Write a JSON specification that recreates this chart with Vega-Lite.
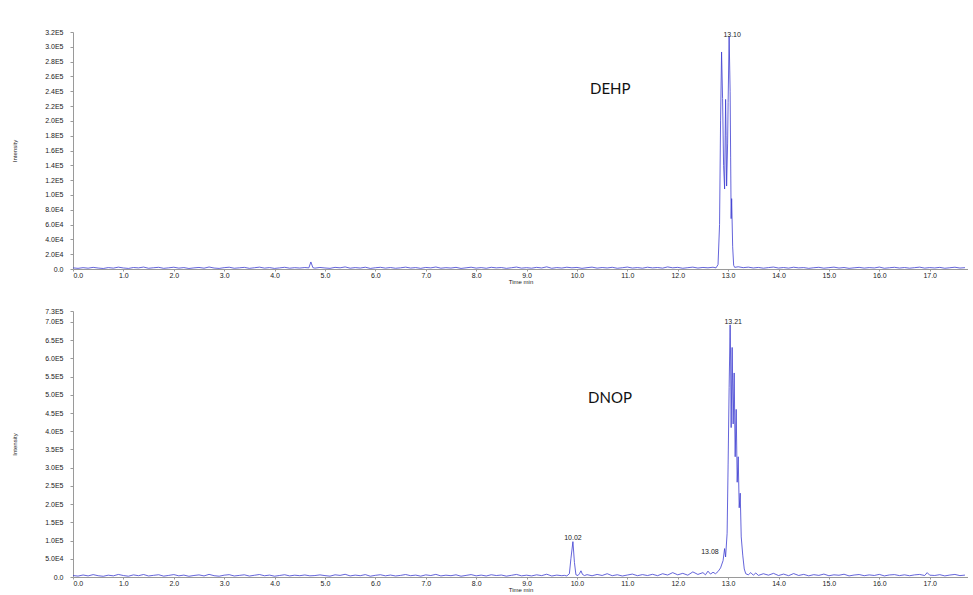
{
  "$schema": "https://vega.github.io/schema/vega-lite/v6.json",
  "background": "white",
  "padding": {"left": 11, "top": 28, "right": 0, "bottom": 0},
  "spacing": 23,
  "config": {
    "view": {"stroke": null},
    "font": "Liberation Sans",
    "axis": {"grid": false, "labelOverlap": false, "domainColor": "#9a9a9a", "tickColor": "#9a9a9a", "labelColor": "#222222", "titleColor": "#222222", "titleFontWeight": "normal", "labelFont": "Liberation Sans", "titleFont": "Liberation Sans"}
  },
  "datasets": {
    "dehp": [
      {"t":0.0,"v":1500},{"t":0.1,"v":900},{"t":0.2,"v":1800},{"t":0.3,"v":1100},{"t":0.4,"v":2200},{"t":0.5,"v":1300},{"t":0.6,"v":700},{"t":0.7,"v":1900},{"t":0.8,"v":1200},{"t":0.9,"v":2500},
      {"t":1.0,"v":1400},{"t":1.1,"v":800},{"t":1.2,"v":2000},{"t":1.3,"v":1500},{"t":1.4,"v":2600},{"t":1.5,"v":1000},{"t":1.6,"v":1700},{"t":1.7,"v":2300},{"t":1.8,"v":900},{"t":1.9,"v":1600},
      {"t":2.0,"v":2400},{"t":2.1,"v":1200},{"t":2.2,"v":1900},{"t":2.3,"v":700},{"t":2.4,"v":1500},{"t":2.5,"v":2100},{"t":2.6,"v":1100},{"t":2.7,"v":2700},{"t":2.8,"v":1300},{"t":2.9,"v":800},
      {"t":3.0,"v":1800},{"t":3.1,"v":2400},{"t":3.2,"v":1000},{"t":3.3,"v":1600},{"t":3.4,"v":2200},{"t":3.5,"v":900},{"t":3.6,"v":1700},{"t":3.7,"v":2500},{"t":3.8,"v":1200},{"t":3.9,"v":1900},
      {"t":4.0,"v":800},{"t":4.1,"v":1500},{"t":4.2,"v":2300},{"t":4.3,"v":1100},{"t":4.4,"v":1800},{"t":4.5,"v":1300},{"t":4.6,"v":2000},{"t":4.68,"v":1500},{"t":4.72,"v":9500},{"t":4.76,"v":1800},
      {"t":4.8,"v":1200},{"t":4.9,"v":2100},{"t":5.0,"v":1400},{"t":5.1,"v":900},{"t":5.2,"v":2200},{"t":5.3,"v":1600},{"t":5.4,"v":2800},{"t":5.5,"v":1100},{"t":5.6,"v":1900},{"t":5.7,"v":1300},
      {"t":5.8,"v":2400},{"t":5.9,"v":800},{"t":6.0,"v":1700},{"t":6.1,"v":2300},{"t":6.2,"v":1200},{"t":6.3,"v":2000},{"t":6.4,"v":1000},{"t":6.5,"v":1600},{"t":6.6,"v":2500},{"t":6.7,"v":1300},
      {"t":6.8,"v":1900},{"t":6.9,"v":900},{"t":7.0,"v":2100},{"t":7.1,"v":1500},{"t":7.2,"v":2700},{"t":7.3,"v":1100},{"t":7.4,"v":1800},{"t":7.5,"v":1300},{"t":7.6,"v":2200},{"t":7.7,"v":800},
      {"t":7.8,"v":1600},{"t":7.9,"v":2400},{"t":8.0,"v":1200},{"t":8.1,"v":1900},{"t":8.2,"v":1000},{"t":8.3,"v":2300},{"t":8.4,"v":1500},{"t":8.5,"v":2000},{"t":8.6,"v":900},{"t":8.7,"v":1700},
      {"t":8.8,"v":2600},{"t":8.9,"v":1200},{"t":9.0,"v":1800},{"t":9.1,"v":1100},{"t":9.2,"v":2200},{"t":9.3,"v":1400},{"t":9.4,"v":2900},{"t":9.5,"v":1000},{"t":9.6,"v":1900},{"t":9.7,"v":1300},
      {"t":9.8,"v":2400},{"t":9.9,"v":1600},{"t":10.0,"v":2100},{"t":10.1,"v":900},{"t":10.2,"v":1800},{"t":10.3,"v":2500},{"t":10.4,"v":1200},{"t":10.5,"v":2000},{"t":10.6,"v":1400},{"t":10.7,"v":2300},
      {"t":10.8,"v":1000},{"t":10.9,"v":1700},{"t":11.0,"v":2600},{"t":11.1,"v":1300},{"t":11.2,"v":1900},{"t":11.3,"v":1100},{"t":11.4,"v":2400},{"t":11.5,"v":1500},{"t":11.6,"v":2000},{"t":11.7,"v":1200},
      {"t":11.8,"v":2800},{"t":11.9,"v":1600},{"t":12.0,"v":2200},{"t":12.1,"v":1000},{"t":12.2,"v":1800},{"t":12.3,"v":2500},{"t":12.4,"v":1300},{"t":12.5,"v":2100},{"t":12.6,"v":1600},{"t":12.7,"v":2400},
      {"t":12.76,"v":1500},{"t":12.8,"v":6000},{"t":12.83,"v":60000},{"t":12.85,"v":200000},{"t":12.87,"v":293000},{"t":12.89,"v":230000},{"t":12.91,"v":140000},{"t":12.93,"v":108000},{"t":12.95,"v":229000},{"t":12.96,"v":180000},
      {"t":12.97,"v":112000},{"t":12.99,"v":170000},{"t":13.0,"v":225000},{"t":13.02,"v":314000},{"t":13.04,"v":240000},{"t":13.05,"v":150000},{"t":13.06,"v":68000},{"t":13.07,"v":95000},{"t":13.09,"v":30000},{"t":13.11,"v":5000},
      {"t":13.13,"v":2200},{"t":13.2,"v":3000},{"t":13.3,"v":1800},{"t":13.4,"v":2500},{"t":13.5,"v":1400},{"t":13.6,"v":2100},{"t":13.7,"v":1100},{"t":13.8,"v":1900},{"t":13.9,"v":2600},{"t":14.0,"v":1300},
      {"t":14.1,"v":2000},{"t":14.2,"v":1200},{"t":14.3,"v":2400},{"t":14.4,"v":1500},{"t":14.5,"v":1900},{"t":14.6,"v":900},{"t":14.7,"v":1700},{"t":14.8,"v":2300},{"t":14.9,"v":1100},{"t":15.0,"v":1800},
      {"t":15.1,"v":2500},{"t":15.2,"v":1300},{"t":15.3,"v":2000},{"t":15.4,"v":900},{"t":15.5,"v":1600},{"t":15.6,"v":2200},{"t":15.7,"v":1200},{"t":15.8,"v":1900},{"t":15.9,"v":1400},{"t":16.0,"v":2600},
      {"t":16.1,"v":1000},{"t":16.2,"v":1700},{"t":16.3,"v":2300},{"t":16.4,"v":1300},{"t":16.5,"v":2000},{"t":16.6,"v":1100},{"t":16.7,"v":1800},{"t":16.8,"v":2500},{"t":16.9,"v":1200},{"t":17.0,"v":1900},
      {"t":17.1,"v":1400},{"t":17.2,"v":2200},{"t":17.3,"v":1000},{"t":17.4,"v":1700},{"t":17.5,"v":2400},{"t":17.6,"v":1300},{"t":17.7,"v":1800}
    ],
    "dnop": [
      {"t":0.0,"v":4000},{"t":0.1,"v":2500},{"t":0.2,"v":5500},{"t":0.3,"v":3000},{"t":0.4,"v":6500},{"t":0.5,"v":3500},{"t":0.6,"v":2000},{"t":0.7,"v":5000},{"t":0.8,"v":3200},{"t":0.9,"v":7000},
      {"t":1.0,"v":4000},{"t":1.1,"v":2200},{"t":1.2,"v":5800},{"t":1.3,"v":3600},{"t":1.4,"v":6800},{"t":1.5,"v":2800},{"t":1.6,"v":4600},{"t":1.7,"v":6200},{"t":1.8,"v":2400},{"t":1.9,"v":4400},
      {"t":2.0,"v":6600},{"t":2.1,"v":3200},{"t":2.2,"v":5200},{"t":2.3,"v":2000},{"t":2.4,"v":4200},{"t":2.5,"v":5800},{"t":2.6,"v":3000},{"t":2.7,"v":7200},{"t":2.8,"v":3600},{"t":2.9,"v":2200},
      {"t":3.0,"v":5000},{"t":3.1,"v":6400},{"t":3.2,"v":2800},{"t":3.3,"v":4400},{"t":3.4,"v":6000},{"t":3.5,"v":2600},{"t":3.6,"v":4800},{"t":3.7,"v":6800},{"t":3.8,"v":3400},{"t":3.9,"v":5200},
      {"t":4.0,"v":2200},{"t":4.1,"v":4200},{"t":4.2,"v":6200},{"t":4.3,"v":3000},{"t":4.4,"v":5000},{"t":4.5,"v":3600},{"t":4.6,"v":5600},{"t":4.7,"v":3200},{"t":4.8,"v":4000},{"t":4.9,"v":5800},
      {"t":5.0,"v":3800},{"t":5.1,"v":2400},{"t":5.2,"v":6000},{"t":5.3,"v":4400},{"t":5.4,"v":7400},{"t":5.5,"v":3000},{"t":5.6,"v":5200},{"t":5.7,"v":3600},{"t":5.8,"v":6600},{"t":5.9,"v":2200},
      {"t":6.0,"v":4600},{"t":6.1,"v":6200},{"t":6.2,"v":3200},{"t":6.3,"v":5400},{"t":6.4,"v":2800},{"t":6.5,"v":4400},{"t":6.6,"v":6800},{"t":6.7,"v":3600},{"t":6.8,"v":5200},{"t":6.9,"v":2400},
      {"t":7.0,"v":5800},{"t":7.1,"v":4000},{"t":7.2,"v":7200},{"t":7.3,"v":3000},{"t":7.4,"v":5000},{"t":7.5,"v":3600},{"t":7.6,"v":6000},{"t":7.7,"v":2200},{"t":7.8,"v":4400},{"t":7.9,"v":6600},
      {"t":8.0,"v":3200},{"t":8.1,"v":5200},{"t":8.2,"v":2800},{"t":8.3,"v":6200},{"t":8.4,"v":4000},{"t":8.5,"v":5400},{"t":8.6,"v":2400},{"t":8.7,"v":4600},{"t":8.8,"v":7000},{"t":8.9,"v":3200},
      {"t":9.0,"v":5000},{"t":9.1,"v":3000},{"t":9.2,"v":6000},{"t":9.3,"v":3800},{"t":9.4,"v":7600},{"t":9.5,"v":2800},{"t":9.6,"v":5200},{"t":9.7,"v":3600},{"t":9.75,"v":4500},{"t":9.8,"v":3000},
      {"t":9.85,"v":9000},{"t":9.88,"v":50000},{"t":9.92,"v":97000},{"t":9.95,"v":40000},{"t":9.98,"v":6000},{"t":10.02,"v":4000},{"t":10.05,"v":9000},{"t":10.08,"v":17000},{"t":10.11,"v":7000},{"t":10.15,"v":4000},
      {"t":10.2,"v":6400},{"t":10.3,"v":3400},{"t":10.4,"v":7000},{"t":10.5,"v":4200},{"t":10.6,"v":9000},{"t":10.7,"v":3600},{"t":10.8,"v":6200},{"t":10.9,"v":2800},{"t":11.0,"v":5400},{"t":11.1,"v":8000},
      {"t":11.2,"v":3600},{"t":11.3,"v":6600},{"t":11.4,"v":4000},{"t":11.5,"v":7400},{"t":11.6,"v":3600},{"t":11.7,"v":9000},{"t":11.8,"v":5400},{"t":11.9,"v":12000},{"t":12.0,"v":6000},{"t":12.1,"v":10000},
      {"t":12.2,"v":5000},{"t":12.3,"v":14000},{"t":12.4,"v":7000},{"t":12.5,"v":12000},{"t":12.55,"v":6000},{"t":12.6,"v":16000},{"t":12.65,"v":8000},{"t":12.7,"v":13000},{"t":12.75,"v":9000},{"t":12.8,"v":15000},
      {"t":12.85,"v":25000},{"t":12.9,"v":45000},{"t":12.93,"v":78000},{"t":12.95,"v":55000},{"t":12.98,"v":120000},{"t":13.0,"v":310000},{"t":13.02,"v":520000},{"t":13.04,"v":692000},{"t":13.05,"v":590000},{"t":13.06,"v":410000},
      {"t":13.08,"v":630000},{"t":13.1,"v":420000},{"t":13.12,"v":560000},{"t":13.14,"v":330000},{"t":13.16,"v":460000},{"t":13.18,"v":260000},{"t":13.2,"v":330000},{"t":13.22,"v":190000},{"t":13.24,"v":230000},{"t":13.26,"v":110000},
      {"t":13.29,"v":60000},{"t":13.32,"v":22000},{"t":13.35,"v":9000},{"t":13.4,"v":6000},{"t":13.45,"v":12000},{"t":13.5,"v":5000},{"t":13.55,"v":11000},{"t":13.6,"v":4400},{"t":13.7,"v":9000},{"t":13.8,"v":5000},
      {"t":13.9,"v":10000},{"t":14.0,"v":4000},{"t":14.1,"v":8000},{"t":14.2,"v":3600},{"t":14.3,"v":9400},{"t":14.4,"v":4200},{"t":14.5,"v":7200},{"t":14.6,"v":3200},{"t":14.7,"v":6400},{"t":14.8,"v":4400},
      {"t":14.9,"v":8000},{"t":15.0,"v":3400},{"t":15.1,"v":6000},{"t":15.2,"v":4800},{"t":15.3,"v":7600},{"t":15.4,"v":3000},{"t":15.5,"v":5400},{"t":15.6,"v":6800},{"t":15.7,"v":3600},{"t":15.8,"v":5800},
      {"t":15.9,"v":4200},{"t":16.0,"v":7200},{"t":16.1,"v":3000},{"t":16.2,"v":5600},{"t":16.3,"v":6600},{"t":16.4,"v":3800},{"t":16.5,"v":6000},{"t":16.6,"v":3400},{"t":16.7,"v":5800},{"t":16.8,"v":7000},
      {"t":16.9,"v":4000},{"t":16.95,"v":12000},{"t":17.0,"v":5000},{"t":17.1,"v":4200},{"t":17.2,"v":6400},{"t":17.3,"v":3000},{"t":17.4,"v":5400},{"t":17.5,"v":7000},{"t":17.6,"v":3800},{"t":17.7,"v":5200}
    ],
    "dehpNames": [{"t":10.26,"v":243000,"label":"DEHP"}],
    "dnopNames": [{"t":10.22,"v":492000,"label":"DNOP"}],
    "dehpPeaks": [{"t":13.08,"v":316000,"label":"13.10"}],
    "dnopPeaks": [{"t":13.1,"v":700000,"label":"13.21"},{"t":9.92,"v":108000,"label":"10.02"},{"t":12.64,"v":68000,"label":"13.08"}]
  },
  "vconcat": [
    {
      "width": 895,
      "height": 237,
      "encoding": {
        "x": {"field": "t", "type": "quantitative", "scale": {"domain": [0, 17.76], "nice": false, "zero": false},
          "axis": {"title": "Time min", "values": [0,1,2,3,4,5,6,7,8,9,10,11,12,13,14,15,16,17], "format": ".1f", "labelOverlap": false, "labelFontSize": 7, "labelPadding": 0, "tickSize": 2, "titleFontSize": 6, "titlePadding": 0}},
        "y": {"field": "v", "type": "quantitative", "scale": {"domain": [0, 320000], "nice": false},
          "axis": {"title": "Intensity", "values": [0,20000,40000,60000,80000,100000,120000,140000,160000,180000,200000,220000,240000,260000,280000,300000,320000],
            "labelExpr": "datum.value == 0 ? '0.0' : replace(upper(format(datum.value, '.1e')), 'E+', 'E')",
            "labelOverlap": false, "labelSeparation": 0, "labelFontSize": 7, "tickSize": 3, "labelPadding": 7, "titleFontSize": 6, "titlePadding": 27}}
      },
      "layer": [
        {
          "data": {"name": "dehp"},
          "mark": {"type": "line", "color": "#3c3cd0", "strokeWidth": 0.8}
        },
        {
          "data": {"name": "dehpNames"},
          "mark": {"type": "text", "align": "left", "baseline": "middle", "fontSize": 15, "font": "Lato", "color": "#111111"},
          "encoding": {"text": {"field": "label"}}
        },
        {
          "data": {"name": "dehpPeaks"},
          "mark": {"type": "text", "align": "center", "baseline": "middle", "fontSize": 7, "color": "#222222"},
          "encoding": {"text": {"field": "label"}}
        }
      ]
    },
    {
      "width": 895,
      "height": 266,
      "encoding": {
        "x": {"field": "t", "type": "quantitative", "scale": {"domain": [0, 17.76], "nice": false, "zero": false},
          "axis": {"title": "Time min", "values": [0,1,2,3,4,5,6,7,8,9,10,11,12,13,14,15,16,17], "format": ".1f", "labelOverlap": false, "labelFontSize": 7, "labelPadding": 0, "tickSize": 2, "titleFontSize": 6, "titlePadding": 0}},
        "y": {"field": "v", "type": "quantitative", "scale": {"domain": [0, 730000], "nice": false},
          "axis": {"title": "Intensity", "values": [0,50000,100000,150000,200000,250000,300000,350000,400000,450000,500000,550000,600000,650000,700000,730000],
            "labelExpr": "datum.value == 0 ? '0.0' : replace(upper(format(datum.value, '.1e')), 'E+', 'E')",
            "labelOverlap": false, "labelSeparation": 0, "labelFontSize": 7, "tickSize": 3, "labelPadding": 7, "titleFontSize": 6, "titlePadding": 27}}
      },
      "layer": [
        {
          "data": {"name": "dnop"},
          "mark": {"type": "line", "color": "#3c3cd0", "strokeWidth": 0.8}
        },
        {
          "data": {"name": "dnopNames"},
          "mark": {"type": "text", "align": "left", "baseline": "middle", "fontSize": 15, "font": "Lato", "color": "#111111"},
          "encoding": {"text": {"field": "label"}}
        },
        {
          "data": {"name": "dnopPeaks"},
          "mark": {"type": "text", "align": "center", "baseline": "middle", "fontSize": 7, "color": "#222222"},
          "encoding": {"text": {"field": "label"}}
        }
      ]
    }
  ]
}
